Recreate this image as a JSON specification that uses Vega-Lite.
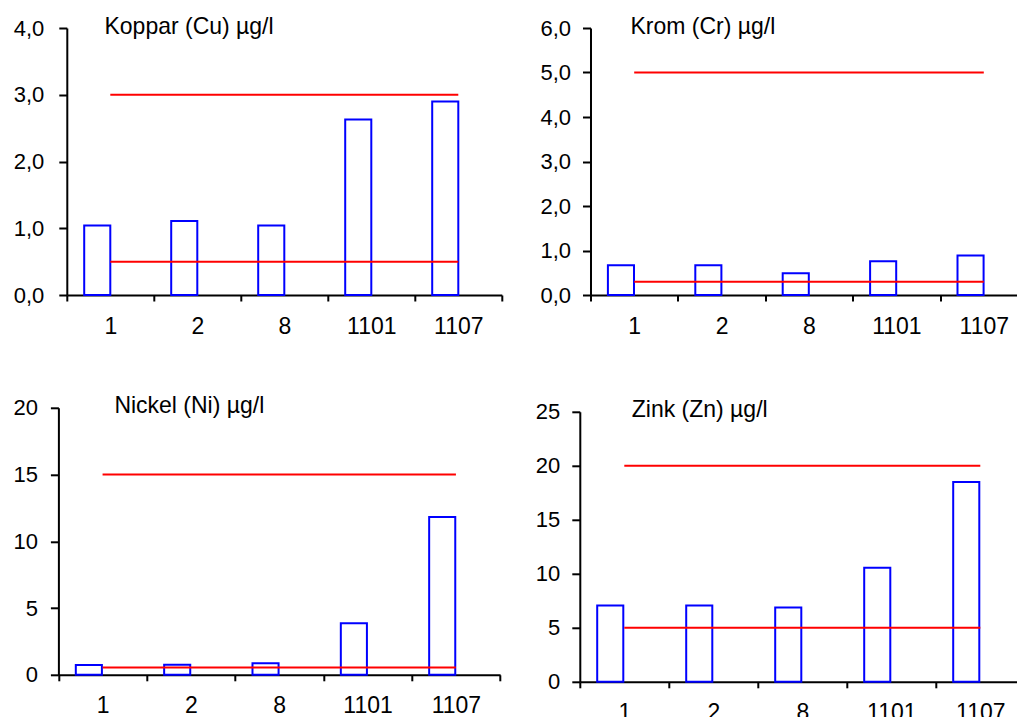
{
  "$schema": "https://vega.github.io/schema/vega-lite/v6.json",
  "background": "white",
  "padding": {"left": 12.8, "top": 15, "right": 0, "bottom": 0},
  "config": {
    "view": {"stroke": null},
    "axis": {"labelFont": "Liberation Sans", "labelFontSize": 22, "labelColor": "black", "domainColor": "black", "domainWidth": 2, "tickColor": "black", "tickWidth": 2, "grid": false, "title": null},
    "axisX": {"labelAngle": 0, "tickBand": "extent", "tickSize": 6, "labelPadding": 14, "labelFontSize": 23},
    "axisY": {"tickSize": 8, "labelPadding": 13},
    "title": {"font": "Liberation Sans", "fontSize": 23, "fontWeight": "normal", "anchor": "start", "frame": "group", "baseline": "alphabetic", "color": "black"}
  },
  "datasets": {
    "cu": [
      {"station": "1", "serie": "uppmätt", "value": 1.04},
      {"station": "2", "serie": "uppmätt", "value": 1.11},
      {"station": "8", "serie": "uppmätt", "value": 1.04},
      {"station": "1101", "serie": "uppmätt", "value": 2.63},
      {"station": "1107", "serie": "uppmätt", "value": 2.90}
    ],
    "cu_lim": [
      {"station": "1", "limit": "hög", "value": 3.0},
      {"station": "2", "limit": "hög", "value": 3.0},
      {"station": "8", "limit": "hög", "value": 3.0},
      {"station": "1101", "limit": "hög", "value": 3.0},
      {"station": "1107", "limit": "hög", "value": 3.0},
      {"station": "1", "limit": "låg", "value": 0.5},
      {"station": "2", "limit": "låg", "value": 0.5},
      {"station": "8", "limit": "låg", "value": 0.5},
      {"station": "1101", "limit": "låg", "value": 0.5},
      {"station": "1107", "limit": "låg", "value": 0.5}
    ],
    "cr": [
      {"station": "1", "serie": "uppmätt", "value": 0.67},
      {"station": "2", "serie": "uppmätt", "value": 0.67},
      {"station": "8", "serie": "uppmätt", "value": 0.49},
      {"station": "1101", "serie": "uppmätt", "value": 0.76},
      {"station": "1107", "serie": "uppmätt", "value": 0.89}
    ],
    "cr_lim": [
      {"station": "1", "limit": "hög", "value": 5.0},
      {"station": "2", "limit": "hög", "value": 5.0},
      {"station": "8", "limit": "hög", "value": 5.0},
      {"station": "1101", "limit": "hög", "value": 5.0},
      {"station": "1107", "limit": "hög", "value": 5.0},
      {"station": "1", "limit": "låg", "value": 0.3},
      {"station": "2", "limit": "låg", "value": 0.3},
      {"station": "8", "limit": "låg", "value": 0.3},
      {"station": "1101", "limit": "låg", "value": 0.3},
      {"station": "1107", "limit": "låg", "value": 0.3}
    ],
    "ni": [
      {"station": "1", "serie": "uppmätt", "value": 0.73},
      {"station": "2", "serie": "uppmätt", "value": 0.75},
      {"station": "8", "serie": "uppmätt", "value": 0.87},
      {"station": "1101", "serie": "uppmätt", "value": 3.87},
      {"station": "1107", "serie": "uppmätt", "value": 11.82}
    ],
    "ni_lim": [
      {"station": "1", "limit": "hög", "value": 15},
      {"station": "2", "limit": "hög", "value": 15},
      {"station": "8", "limit": "hög", "value": 15},
      {"station": "1101", "limit": "hög", "value": 15},
      {"station": "1107", "limit": "hög", "value": 15},
      {"station": "1", "limit": "låg", "value": 0.55},
      {"station": "2", "limit": "låg", "value": 0.55},
      {"station": "8", "limit": "låg", "value": 0.55},
      {"station": "1101", "limit": "låg", "value": 0.55},
      {"station": "1107", "limit": "låg", "value": 0.55}
    ],
    "zn": [
      {"station": "1", "serie": "uppmätt", "value": 7.06},
      {"station": "2", "serie": "uppmätt", "value": 7.06},
      {"station": "8", "serie": "uppmätt", "value": 6.88},
      {"station": "1101", "serie": "uppmätt", "value": 10.55},
      {"station": "1107", "serie": "uppmätt", "value": 18.5}
    ],
    "zn_lim": [
      {"station": "1", "limit": "hög", "value": 20},
      {"station": "2", "limit": "hög", "value": 20},
      {"station": "8", "limit": "hög", "value": 20},
      {"station": "1101", "limit": "hög", "value": 20},
      {"station": "1107", "limit": "hög", "value": 20},
      {"station": "1", "limit": "låg", "value": 5},
      {"station": "2", "limit": "låg", "value": 5},
      {"station": "8", "limit": "låg", "value": 5},
      {"station": "1101", "limit": "låg", "value": 5},
      {"station": "1107", "limit": "låg", "value": 5}
    ]
  },
  "spacing": 56.8,
  "vconcat": [
    {
      "spacing": 36.7,
      "hconcat": [
        {
          "width": 435, "height": 267,
          "title": {"text": "Koppar (Cu) µg/l", "dx": 37.7, "offset": -21.5},
          "layer": [
            {
              "data": {"name": "cu"},
              "mark": {"type": "bar", "fill": "white", "stroke": "#0000FF", "strokeWidth": 2},
              "encoding": {
                "x": {"field": "station", "type": "nominal", "scale": {"domain": ["1", "2", "8", "1101", "1107"], "paddingInner": 0, "paddingOuter": 0}},
                "xOffset": {"field": "serie", "type": "nominal", "scale": {"domain": ["uppmätt", "tom"], "paddingInner": 0, "paddingOuter": 0.667}},
                "y": {"field": "value", "type": "quantitative", "scale": {"domain": [0, 4], "nice": false}, "axis": {"values": [0, 1, 2, 3, 4], "labelPadding": 15, "labelExpr": "replace(format(datum.value, '.1f'), '.', ',')"}}
              }
            },
            {
              "data": {"name": "cu_lim"},
              "mark": {"type": "line", "color": "#FF0000", "strokeWidth": 2},
              "encoding": {
                "x": {"field": "station", "type": "nominal"},
                "y": {"field": "value", "type": "quantitative"},
                "detail": {"field": "limit", "type": "nominal"}
              }
            }
          ]
        },
        {
          "width": 437, "height": 267,
          "title": {"text": "Krom (Cr) µg/l", "dx": 40, "offset": -21.5},
          "layer": [
            {
              "data": {"name": "cr"},
              "mark": {"type": "bar", "fill": "white", "stroke": "#0000FF", "strokeWidth": 2},
              "encoding": {
                "x": {"field": "station", "type": "nominal", "scale": {"domain": ["1", "2", "8", "1101", "1107"], "paddingInner": 0, "paddingOuter": 0}},
                "xOffset": {"field": "serie", "type": "nominal", "scale": {"domain": ["uppmätt", "tom"], "paddingInner": 0, "paddingOuter": 0.667}},
                "y": {"field": "value", "type": "quantitative", "scale": {"domain": [0, 6], "nice": false}, "axis": {"values": [0, 1, 2, 3, 4, 5, 6], "labelPadding": 12, "labelExpr": "replace(format(datum.value, '.1f'), '.', ',')"}}
              }
            },
            {
              "data": {"name": "cr_lim"},
              "mark": {"type": "line", "color": "#FF0000", "strokeWidth": 2},
              "encoding": {
                "x": {"field": "station", "type": "nominal"},
                "y": {"field": "value", "type": "quantitative"},
                "detail": {"field": "limit", "type": "nominal"}
              }
            }
          ]
        }
      ]
    },
    {
      "spacing": 26,
      "hconcat": [
        {
          "width": 433, "height": 267,
          "title": {"text": "Nickel (Ni) µg/l", "dx": 47.6, "offset": -21.5},
          "layer": [
            {
              "data": {"name": "ni"},
              "mark": {"type": "bar", "fill": "white", "stroke": "#0000FF", "strokeWidth": 2},
              "encoding": {
                "x": {"field": "station", "type": "nominal", "scale": {"domain": ["1", "2", "8", "1101", "1107"], "range": [-8.4, 433.3], "paddingInner": 0, "paddingOuter": 0}},
                "xOffset": {"field": "serie", "type": "nominal", "scale": {"domain": ["uppmätt", "tom"], "paddingInner": 0, "paddingOuter": 0.667}},
                "y": {"field": "value", "type": "quantitative", "scale": {"domain": [0, 20], "nice": false}, "axis": {"values": [0, 5, 10, 15, 20], "offset": 8.4, "labelPadding": 13}}
              }
            },
            {
              "data": {"name": "ni_lim"},
              "mark": {"type": "line", "color": "#FF0000", "strokeWidth": 2},
              "encoding": {
                "x": {"field": "station", "type": "nominal"},
                "y": {"field": "value", "type": "quantitative"},
                "detail": {"field": "limit", "type": "nominal"}
              }
            }
          ]
        },
        {
          "width": 435, "height": 274,
          "title": {"text": "Zink (Zn) µg/l", "dx": 42, "offset": -21.6},
          "layer": [
            {
              "data": {"name": "zn"},
              "mark": {"type": "bar", "fill": "white", "stroke": "#0000FF", "strokeWidth": 2},
              "encoding": {
                "x": {"field": "station", "type": "nominal", "scale": {"domain": ["1", "2", "8", "1101", "1107"], "range": [-10, 435], "paddingInner": 0, "paddingOuter": 0}},
                "xOffset": {"field": "serie", "type": "nominal", "scale": {"domain": ["uppmätt", "tom"], "paddingInner": 0, "paddingOuter": 0.667}},
                "y": {"field": "value", "type": "quantitative", "scale": {"domain": [0, 25], "range": [274, 4], "nice": false}, "axis": {"values": [0, 5, 10, 15, 20, 25], "offset": 10, "labelPadding": 12}}
              }
            },
            {
              "data": {"name": "zn_lim"},
              "mark": {"type": "line", "color": "#FF0000", "strokeWidth": 2},
              "encoding": {
                "x": {"field": "station", "type": "nominal"},
                "y": {"field": "value", "type": "quantitative"},
                "detail": {"field": "limit", "type": "nominal"}
              }
            }
          ]
        }
      ]
    }
  ]
}
